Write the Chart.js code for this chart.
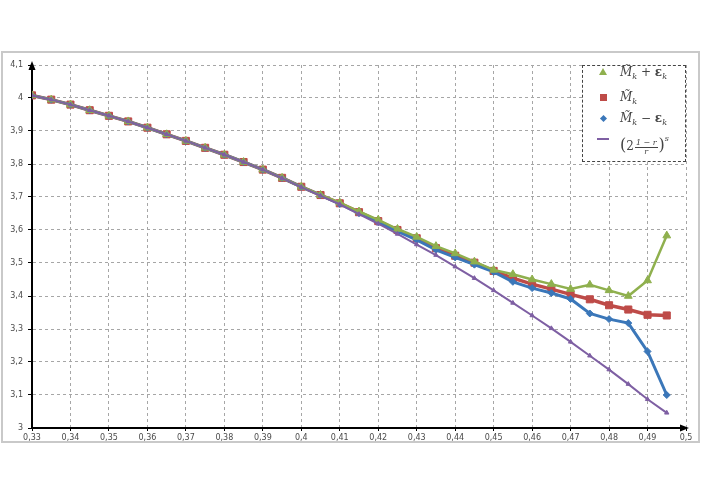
<!DOCTYPE html>
<html>
<head>
<meta charset="utf-8">
<script src="https://cdn.jsdelivr.net/npm/chart.js@4.4.1/dist/chart.umd.min.js"></script>
<style>
  html, body { margin: 0; padding: 0; background: #fff; }
  #wrap { position: relative; width: 702px; height: 496px; overflow: hidden; }
  #frame { position: absolute; left: 1px; top: 51px; width: 699px; height: 392px;
           box-sizing: border-box; border: 2px solid #c9c9c9; }
  #chart { position: absolute; left: 0; top: 0; }
  #legend { position: absolute; left: 582px; top: 65px; width: 104px; height: 97px;
            box-sizing: border-box; background: #fff; border: 1px dashed #444;
            font-family: 'DejaVu Serif', 'Liberation Serif', serif; font-size: 12px; color: #444; }
  .row { position: absolute; left: 0; height: 20px; width: 100%; }
  .mk { position: absolute; left: 20px; top: 10px; }
  .txt { position: absolute; left: 37px; top: 0; line-height: 20px; white-space: nowrap; }
  .txt i { font-style: italic; }
  .txt sub { font-size: 8px; vertical-align: -3px; }
  .txt b { font-weight: bold; }
  .big { font-size: 16px; font-style: normal; }
  .fr { display: inline-flex; flex-direction: column; align-items: center;
        font-size: 8px; line-height: 8px; vertical-align: 5px; margin: 0 1px; }
  .fr .num { border-bottom: 1px solid #444; padding: 0 1px; }
  .sup { font-size: 8px; vertical-align: 9px; }
</style>
</head>
<body>
<div id="wrap">
  <div id="frame"></div>
  <canvas id="chart" width="702" height="496"></canvas>
  <div id="legend"></div>
</div>
<script>
// r values (x axis)
const rValues = [0.330, 0.335, 0.340, 0.345, 0.350, 0.355, 0.360, 0.365, 0.370, 0.375,
                 0.380, 0.385, 0.390, 0.395, 0.400, 0.405, 0.410, 0.415, 0.420, 0.425,
                 0.430, 0.435, 0.440, 0.445, 0.450, 0.455, 0.460, 0.465, 0.470, 0.475,
                 0.480, 0.485, 0.490, 0.495];

// M~k + eps_k
const upperVals = [4.008, 3.995, 3.980, 3.963, 3.946, 3.929, 3.910, 3.890, 3.870, 3.849,
                   3.828, 3.806, 3.783, 3.758, 3.731, 3.706, 3.683, 3.656, 3.631, 3.603,
                   3.579, 3.551, 3.529, 3.504, 3.479, 3.466, 3.450, 3.436, 3.421, 3.434,
                   3.417, 3.400, 3.447, 3.583];
// M~k
const estVals   = [4.008, 3.995, 3.980, 3.963, 3.946, 3.929, 3.910, 3.890, 3.870, 3.849,
                   3.828, 3.806, 3.783, 3.758, 3.731, 3.706, 3.681, 3.654, 3.627, 3.600,
                   3.575, 3.545, 3.522, 3.501, 3.476, 3.454, 3.436, 3.421, 3.405, 3.390,
                   3.372, 3.359, 3.343, 3.341];
// M~k - eps_k
const lowerVals = [4.008, 3.995, 3.980, 3.963, 3.946, 3.929, 3.910, 3.890, 3.870, 3.849,
                   3.828, 3.806, 3.783, 3.758, 3.731, 3.706, 3.679, 3.651, 3.624, 3.596,
                   3.570, 3.540, 3.517, 3.495, 3.473, 3.443, 3.424, 3.409, 3.391, 3.347,
                   3.330, 3.318, 3.232, 3.100];
// (2^((1-r)/r))^s
const powVals   = [4.008, 3.995, 3.980, 3.963, 3.946, 3.929, 3.910, 3.890, 3.870, 3.849,
                   3.828, 3.806, 3.783, 3.757, 3.730, 3.704, 3.678, 3.648, 3.619, 3.588,
                   3.556, 3.524, 3.489, 3.454, 3.417, 3.379, 3.341, 3.302, 3.261, 3.219,
                   3.177, 3.133, 3.087, 3.046];

const xTicks = [0.33, 0.34, 0.35, 0.36, 0.37, 0.38, 0.39, 0.40, 0.41, 0.42,
                0.43, 0.44, 0.45, 0.46, 0.47, 0.48, 0.49, 0.50];
const xTickLabels = ['0,33','0,34','0,35','0,36','0,37','0,38','0,39','0,4','0,41','0,42',
                     '0,43','0,44','0,45','0,46','0,47','0,48','0,49','0,5'];
const yTicks = [3.0, 3.1, 3.2, 3.3, 3.4, 3.5, 3.6, 3.7, 3.8, 3.9, 4.0, 4.1];
const yTickLabels = ['3','3,1','3,2','3,3','3,4','3,5','3,6','3,7','3,8','3,9','4','4,1'];

const legendLabels = [
  '<i>M̃</i><sub><i>k</i></sub> + <b>ε</b><sub><i>k</i></sub>',
  '<i>M̃</i><sub><i>k</i></sub>',
  '<i>M̃</i><sub><i>k</i></sub> − <b>ε</b><sub><i>k</i></sub>',
  '<span class="big">(</span>2<span class="fr"><span class="num"><i>1 − r</i></span><span><i>r</i></span></span><span class="big">)</span><span class="sup"><i>s</i></span>'
];

const GREEN  = '#8fb04e';
const RED    = '#be4b48';
const BLUE   = '#3b77b9';
const PURPLE = '#7e5fa3';

const pts = vals => vals.map((v, i) => ({ x: rValues[i], y: v }));

const series = [
  { data: upperVals, color: GREEN,  style: 'triangle', r: 4.5, w: 2.5, order: 1 },
  { data: estVals,   color: RED,    style: 'rect',     r: 5,   w: 3.5, order: 3 },
  { data: lowerVals, color: BLUE,   style: 'rectRot',  r: 3.5, w: 3,   order: 2 },
  { data: powVals,   color: PURPLE, style: 'triangle', r: 2.5, w: 2,   order: 0 }
];

const axisArrows = {
  id: 'axisArrows',
  afterDraw(chart) {
    const { ctx, chartArea: a } = chart;
    ctx.save();
    ctx.fillStyle = '#000';
    ctx.beginPath();
    ctx.moveTo(a.left, a.top - 4);
    ctx.lineTo(a.left - 3.5, a.top + 5);
    ctx.lineTo(a.left + 3.5, a.top + 5);
    ctx.fill();
    ctx.beginPath();
    ctx.moveTo(a.right + 3, a.bottom);
    ctx.lineTo(a.right - 6, a.bottom - 3.5);
    ctx.lineTo(a.right - 6, a.bottom + 3.5);
    ctx.fill();
    ctx.restore();
  }
};

const tickFont = { family: "'DejaVu Sans', sans-serif", size: 8 };

new Chart(document.getElementById('chart'), {
  type: 'line',
  data: {
    datasets: series.map(s => ({
      data: pts(s.data),
      borderColor: s.color,
      backgroundColor: s.color,
      borderWidth: s.w,
      pointStyle: s.style,
      pointRadius: s.r,
      pointBorderWidth: 1,
      pointBackgroundColor: s.color,
      pointBorderColor: s.color,
      tension: 0,
      order: s.order
    }))
  },
  options: {
    responsive: false,
    animation: false,
    events: [],
    layout: { padding: { left: 0, top: 65, right: 16, bottom: 48 } },
    plugins: { legend: { display: false }, tooltip: { enabled: false } },
    scales: {
      x: {
        type: 'linear', min: 0.33, max: 0.5,
        afterBuildTicks: sc => { sc.ticks = xTicks.map(v => ({ value: v })); },
        afterFit: sc => { sc.height = 20; },
        ticks: {
          autoSkip: false, maxRotation: 0, padding: 2, color: '#4a4a4a', font: tickFont,
          callback: (v, i) => xTickLabels[i]
        },
        grid: { color: '#a6a6a6', lineWidth: 1, tickLength: 3, tickColor: '#000' },
        border: { display: true, color: '#000', width: 2, dash: [3, 3] }
      },
      y: {
        min: 3, max: 4.1,
        afterBuildTicks: sc => { sc.ticks = yTicks.map(v => ({ value: v })); },
        afterFit: sc => { sc.width = 32; },
        ticks: {
          autoSkip: false, padding: 5, color: '#4a4a4a', font: tickFont,
          callback: (v, i) => yTickLabels[i]
        },
        grid: { color: '#a6a6a6', lineWidth: 1, tickLength: 4, tickColor: '#000' },
        border: { display: true, color: '#000', width: 2, dash: [3, 3] }
      }
    }
  },
  plugins: [axisArrows]
});

// legend box
const rowCenters = [6, 31, 52, 73];
const legend = document.getElementById('legend');
series.forEach((s, i) => {
  const row = document.createElement('div');
  row.className = 'row';
  row.style.top = (rowCenters[i] - 10) + 'px';
  let mk;
  if (s.style === 'triangle' && i === 0) {
    mk = `<div class="mk" style="margin:-4px 0 0 -4px;width:0;height:0;border-left:4px solid transparent;border-right:4px solid transparent;border-bottom:7px solid ${s.color}"></div>`;
  } else if (s.style === 'rect') {
    mk = `<div class="mk" style="margin:-3.5px 0 0 -3.5px;width:7px;height:7px;background:${s.color}"></div>`;
  } else if (s.style === 'rectRot') {
    mk = `<div class="mk" style="margin:-2.5px 0 0 -2.5px;width:5px;height:5px;background:${s.color};transform:rotate(45deg)"></div>`;
  } else {
    mk = `<div class="mk" style="margin:-1px 0 0 -6px;width:12px;height:2px;background:${s.color}"></div>`;
  }
  row.innerHTML = mk + `<div class="txt">${legendLabels[i]}</div>`;
  legend.appendChild(row);
});
</script>
</body>
</html>
